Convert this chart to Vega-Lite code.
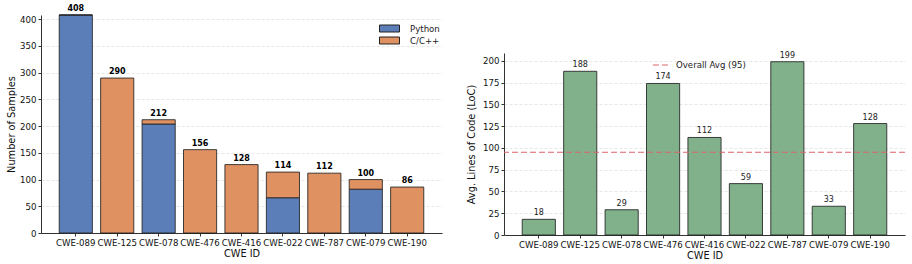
{
  "$schema": "https://vega.github.io/schema/vega-lite/v6.json",
  "background": "white",
  "padding": {"left": 6, "top": 5, "right": 3, "bottom": 3},
  "config": {
    "font": "DejaVu Sans",
    "view": {"stroke": null},
    "axis": {
      "labelFont": "DejaVu Sans", "titleFont": "DejaVu Sans",
      "labelFontSize": 8.6, "titleFontSize": 9.8, "titleFontWeight": "normal",
      "labelColor": "#111", "titleColor": "#111",
      "domainColor": "#333", "tickColor": "#333", "tickSize": 3,
      "gridColor": "#dddddd", "gridDash": [3, 2], "gridWidth": 0.7,
      "labelOverlap": false
    },
    "legend": {"labelFont": "DejaVu Sans", "labelFontSize": 8.6, "labelColor": "#222"}
  },
  "datasets": {
    "counts": [
      {"cwe": "CWE-089", "lang": "Python", "n": 408},
      {"cwe": "CWE-089", "lang": "C/C++", "n": 0},
      {"cwe": "CWE-125", "lang": "Python", "n": 0},
      {"cwe": "CWE-125", "lang": "C/C++", "n": 290},
      {"cwe": "CWE-078", "lang": "Python", "n": 204},
      {"cwe": "CWE-078", "lang": "C/C++", "n": 8},
      {"cwe": "CWE-476", "lang": "Python", "n": 0},
      {"cwe": "CWE-476", "lang": "C/C++", "n": 156},
      {"cwe": "CWE-416", "lang": "Python", "n": 0},
      {"cwe": "CWE-416", "lang": "C/C++", "n": 128},
      {"cwe": "CWE-022", "lang": "Python", "n": 66},
      {"cwe": "CWE-022", "lang": "C/C++", "n": 48},
      {"cwe": "CWE-787", "lang": "Python", "n": 0},
      {"cwe": "CWE-787", "lang": "C/C++", "n": 112},
      {"cwe": "CWE-079", "lang": "Python", "n": 82},
      {"cwe": "CWE-079", "lang": "C/C++", "n": 18},
      {"cwe": "CWE-190", "lang": "Python", "n": 0},
      {"cwe": "CWE-190", "lang": "C/C++", "n": 86}
    ],
    "totals": [
      {"cwe": "CWE-089", "total": 408, "loc": 18},
      {"cwe": "CWE-125", "total": 290, "loc": 188},
      {"cwe": "CWE-078", "total": 212, "loc": 29},
      {"cwe": "CWE-476", "total": 156, "loc": 174},
      {"cwe": "CWE-416", "total": 128, "loc": 112},
      {"cwe": "CWE-022", "total": 114, "loc": 59},
      {"cwe": "CWE-787", "total": 112, "loc": 199},
      {"cwe": "CWE-079", "total": 100, "loc": 33},
      {"cwe": "CWE-190", "total": 86, "loc": 128}
    ],
    "avg": [{"avg": 95, "label": "Overall Avg (95)"}],
    "none": []
  },
  "spacing": 24,
  "resolve": {"legend": {"color": "independent", "stroke": "independent"}},
  "hconcat": [
    {
      "width": 401,
      "height": 218,
      "layer": [
        {
          "data": {"name": "counts"},
          "mark": {"type": "bar", "stroke": "#222", "strokeWidth": 1, "strokeOpacity": 0.85},
          "encoding": {
            "x": {"field": "cwe", "type": "nominal",
                  "sort": ["CWE-089","CWE-125","CWE-078","CWE-476","CWE-416","CWE-022","CWE-787","CWE-079","CWE-190"],
                  "scale": {"paddingInner": 0.2, "paddingOuter": 0.44},
                  "axis": {"title": "CWE ID", "labelAngle": 0, "grid": false, "titlePadding": 2, "labelPadding": 2}},
            "y": {"field": "n", "type": "quantitative", "stack": "zero",
                  "scale": {"domain": [0, 408], "nice": false},
                  "axis": {"title": "Number of Samples", "values": [0,50,100,150,200,250,300,350,400], "grid": true, "titlePadding": 3, "labelPadding": 2}},
            "color": {"field": "lang", "type": "nominal",
                      "scale": {"domain": ["Python", "C/C++"], "range": ["#5b7eb8", "#e09162"]},
                      "legend": {"title": null, "orient": "none", "legendX": 343, "legendY": 8,
                                 "symbolType": "M-2,-0.7H2V0.7H-2Z", "symbolSize": 100,
                                 "symbolStrokeColor": "#222", "symbolStrokeWidth": 1,
                                 "labelOffset": 15, "rowPadding": 1}},
            "order": {"field": "lang", "sort": "descending"}
          }
        },
        {
          "data": {"name": "totals"},
          "mark": {"type": "text", "dy": -6, "fontWeight": "bold", "fontSize": 8, "color": "#000"},
          "encoding": {
            "x": {"field": "cwe", "type": "nominal",
                  "sort": ["CWE-089","CWE-125","CWE-078","CWE-476","CWE-416","CWE-022","CWE-787","CWE-079","CWE-190"],
                  "axis": {"title": "CWE ID", "labelAngle": 0, "grid": false, "titlePadding": 2, "labelPadding": 2}},
            "y": {"field": "total", "type": "quantitative",
                  "axis": {"title": "Number of Samples", "values": [0,50,100,150,200,250,300,350,400], "grid": true, "titlePadding": 3, "labelPadding": 2}},
            "text": {"field": "total", "type": "quantitative"}
          }
        }
      ]
    },
    {
      "spacing": 0,
      "vconcat": [
        {
          "width": 401,
          "height": 36,
          "data": {"name": "none"},
          "mark": "point"
        },
        {
          "width": 401,
          "height": 182,
          "layer": [
            {
              "data": {"name": "totals"},
              "mark": {"type": "bar", "color": "#80b18a", "stroke": "#222", "strokeWidth": 1, "strokeOpacity": 0.85},
              "encoding": {
                "x": {"field": "cwe", "type": "nominal",
                      "sort": ["CWE-089","CWE-125","CWE-078","CWE-476","CWE-416","CWE-022","CWE-787","CWE-079","CWE-190"],
                      "scale": {"paddingInner": 0.2, "paddingOuter": 0.44},
                      "axis": {"title": "CWE ID", "labelAngle": 0, "grid": false, "titlePadding": 2, "labelPadding": 2}},
                "y": {"field": "loc", "type": "quantitative",
                      "scale": {"domain": [0, 209], "nice": false},
                      "axis": {"title": "Avg. Lines of Code (LoC)", "values": [0,25,50,75,100,125,150,175,200], "grid": true, "titlePadding": 6, "labelPadding": 2}}
              }
            },
            {
              "data": {"name": "totals"},
              "mark": {"type": "text", "dy": -6, "fontSize": 8, "color": "#222"},
              "encoding": {
                "x": {"field": "cwe", "type": "nominal",
                      "sort": ["CWE-089","CWE-125","CWE-078","CWE-476","CWE-416","CWE-022","CWE-787","CWE-079","CWE-190"],
                      "axis": {"title": "CWE ID", "labelAngle": 0, "grid": false, "titlePadding": 2, "labelPadding": 2}},
                "y": {"field": "loc", "type": "quantitative",
                      "axis": {"title": "Avg. Lines of Code (LoC)", "values": [0,25,50,75,100,125,150,175,200], "grid": true, "titlePadding": 6, "labelPadding": 2}},
                "text": {"field": "loc", "type": "quantitative"}
              }
            },
            {
              "data": {"name": "avg"},
              "mark": {"type": "rule", "strokeDash": [6, 3], "strokeWidth": 1.2},
              "encoding": {
                "y": {"field": "avg", "type": "quantitative",
                      "axis": {"title": "Avg. Lines of Code (LoC)", "values": [0,25,50,75,100,125,150,175,200], "grid": true, "titlePadding": 6, "labelPadding": 2}},
                "stroke": {"field": "label", "type": "nominal",
                           "scale": {"range": ["#d9666a"]},
                           "legend": {"title": null, "orient": "none", "legendX": 148, "legendY": 40,
                                      "symbolType": "stroke", "symbolDash": [6, 3], "symbolStrokeWidth": 1.2,
                                      "symbolSize": 330}}
              }
            }
          ]
        }
      ]
    }
  ]
}
